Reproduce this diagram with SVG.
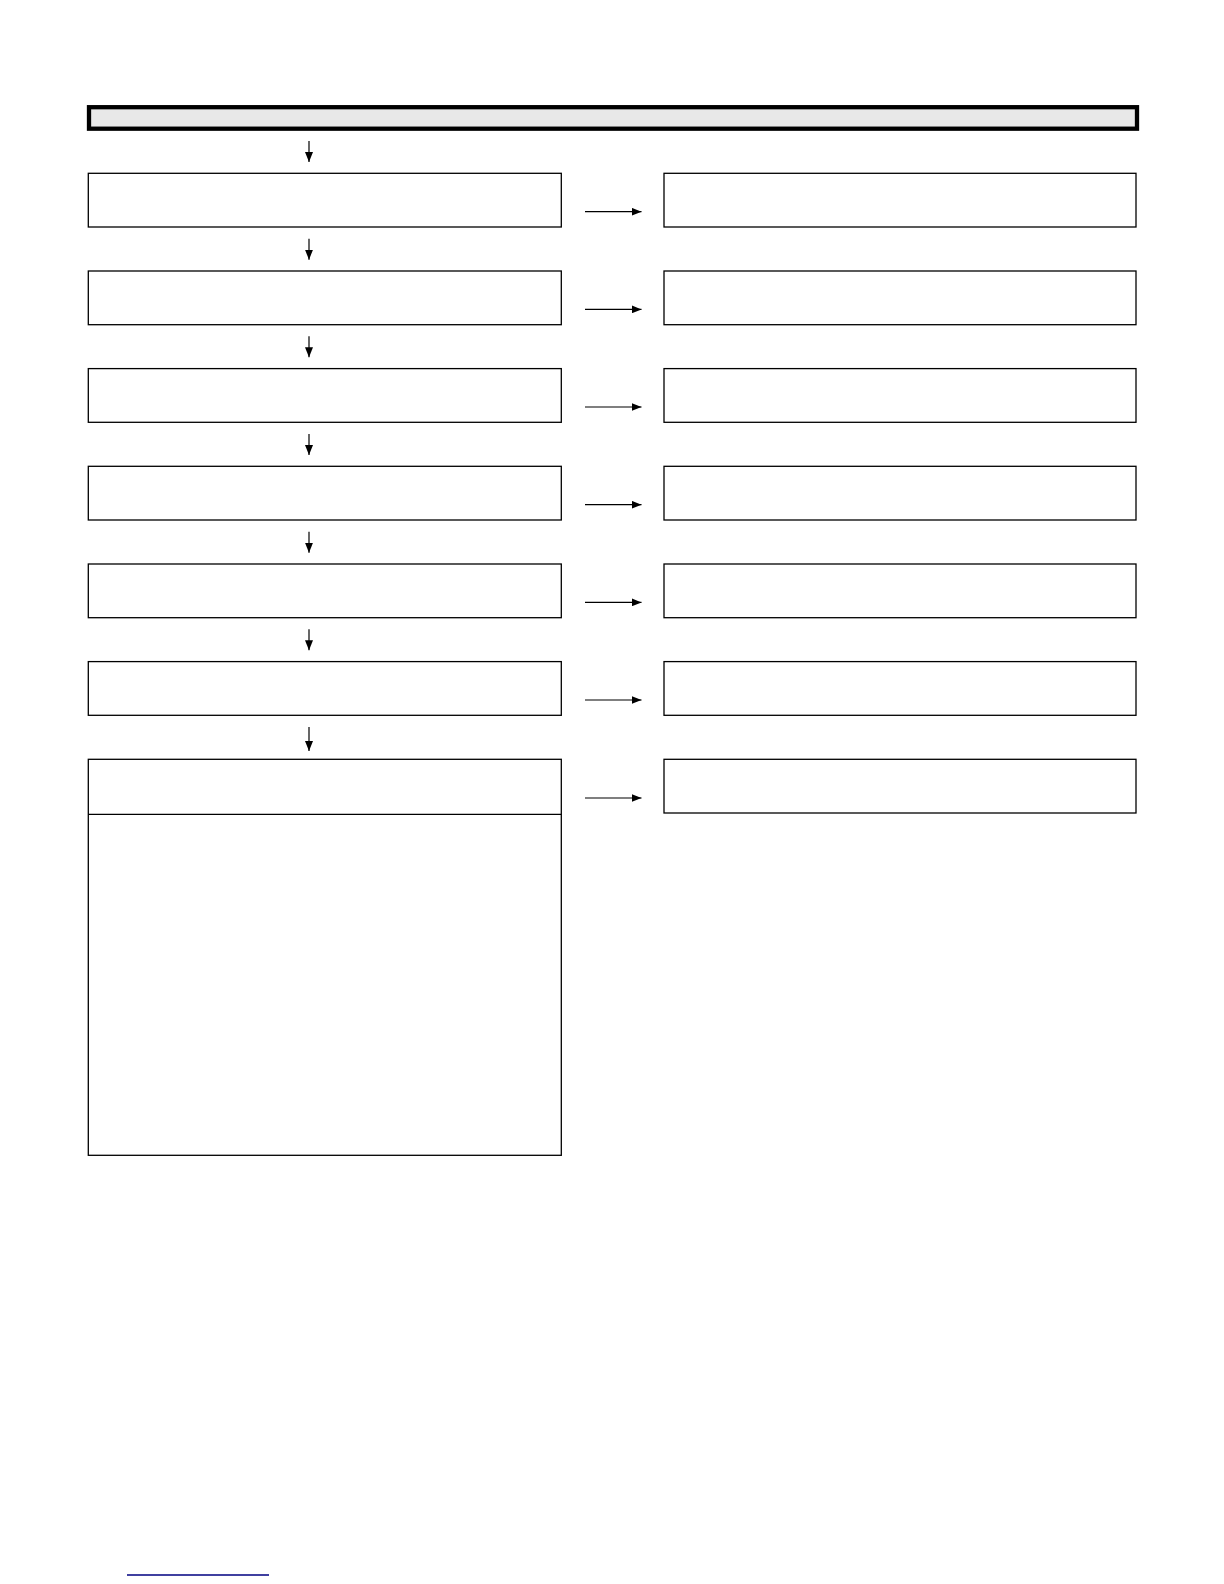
<svg xmlns="http://www.w3.org/2000/svg" width="1224" height="1584" viewBox="0 0 1224 1584">
<style>
.box{fill:#ffffff;stroke:#000000;stroke-width:1.3}
.bar{fill:#e8e8e8;stroke:#000000;stroke-width:4.3}
.conn{fill:none;stroke:#000000;stroke-width:1.2}
.div{stroke:#000000;stroke-width:1.3}
</style>
<defs>
<marker id="ah" markerUnits="userSpaceOnUse" markerWidth="10" markerHeight="8" refX="10" refY="4" orient="auto">
<path d="M0,0 L10,4 L0,8 z" fill="#000000"/>
</marker>
</defs>
<rect width="1224" height="1584" fill="#ffffff"/>
<g id="header"><rect class="bar" x="89" y="107.2" width="1048" height="21.5"/></g>
<g id="L1"><rect class="box" x="88.3" y="173.3" width="473" height="53.7"/></g>
<g id="L2"><rect class="box" x="88.3" y="271" width="473" height="53.7"/></g>
<g id="L3"><rect class="box" x="88.3" y="368.6" width="473" height="53.7"/></g>
<g id="L4"><rect class="box" x="88.3" y="466.3" width="473" height="53.7"/></g>
<g id="L5"><rect class="box" x="88.3" y="564" width="473" height="53.7"/></g>
<g id="L6"><rect class="box" x="88.3" y="661.6" width="473" height="53.7"/></g>
<g id="L7"><rect class="box" x="88.3" y="759.3" width="473" height="396"/><line class="div" x1="88.3" y1="814.3" x2="561.3" y2="814.3"/></g>
<g id="R1"><rect class="box" x="664" y="173.3" width="472" height="53.7"/></g>
<g id="R2"><rect class="box" x="664" y="271" width="472" height="53.7"/></g>
<g id="R3"><rect class="box" x="664" y="368.6" width="472" height="53.7"/></g>
<g id="R4"><rect class="box" x="664" y="466.3" width="472" height="53.7"/></g>
<g id="R5"><rect class="box" x="664" y="564" width="472" height="53.7"/></g>
<g id="R6"><rect class="box" x="664" y="661.6" width="472" height="53.7"/></g>
<g id="R7"><rect class="box" x="664" y="759.3" width="472" height="53.7"/></g>
<g id="connectors">
<line class="conn" x1="309" y1="141" x2="309" y2="162" marker-end="url(#ah)"/>
<line class="conn" x1="309" y1="238.7" x2="309" y2="259.7" marker-end="url(#ah)"/>
<line class="conn" x1="309" y1="336.3" x2="309" y2="357.3" marker-end="url(#ah)"/>
<line class="conn" x1="309" y1="434" x2="309" y2="455" marker-end="url(#ah)"/>
<line class="conn" x1="309" y1="531.7" x2="309" y2="552.7" marker-end="url(#ah)"/>
<line class="conn" x1="309" y1="629.3" x2="309" y2="650.3" marker-end="url(#ah)"/>
<line class="conn" x1="309" y1="727" x2="309" y2="751" marker-end="url(#ah)"/>
<line class="conn" x1="585" y1="211.7" x2="641.5" y2="211.7" marker-end="url(#ah)"/>
<line class="conn" x1="585" y1="309.4" x2="641.5" y2="309.4" marker-end="url(#ah)"/>
<line class="conn" x1="585" y1="407" x2="641.5" y2="407" marker-end="url(#ah)"/>
<line class="conn" x1="585" y1="504.7" x2="641.5" y2="504.7" marker-end="url(#ah)"/>
<line class="conn" x1="585" y1="602.4" x2="641.5" y2="602.4" marker-end="url(#ah)"/>
<line class="conn" x1="585" y1="700" x2="641.5" y2="700" marker-end="url(#ah)"/>
<line class="conn" x1="585" y1="798" x2="641.5" y2="798" marker-end="url(#ah)"/>
</g>
<line x1="127" y1="1575" x2="269" y2="1575" stroke="#000080" stroke-width="1.6"/>
</svg>
